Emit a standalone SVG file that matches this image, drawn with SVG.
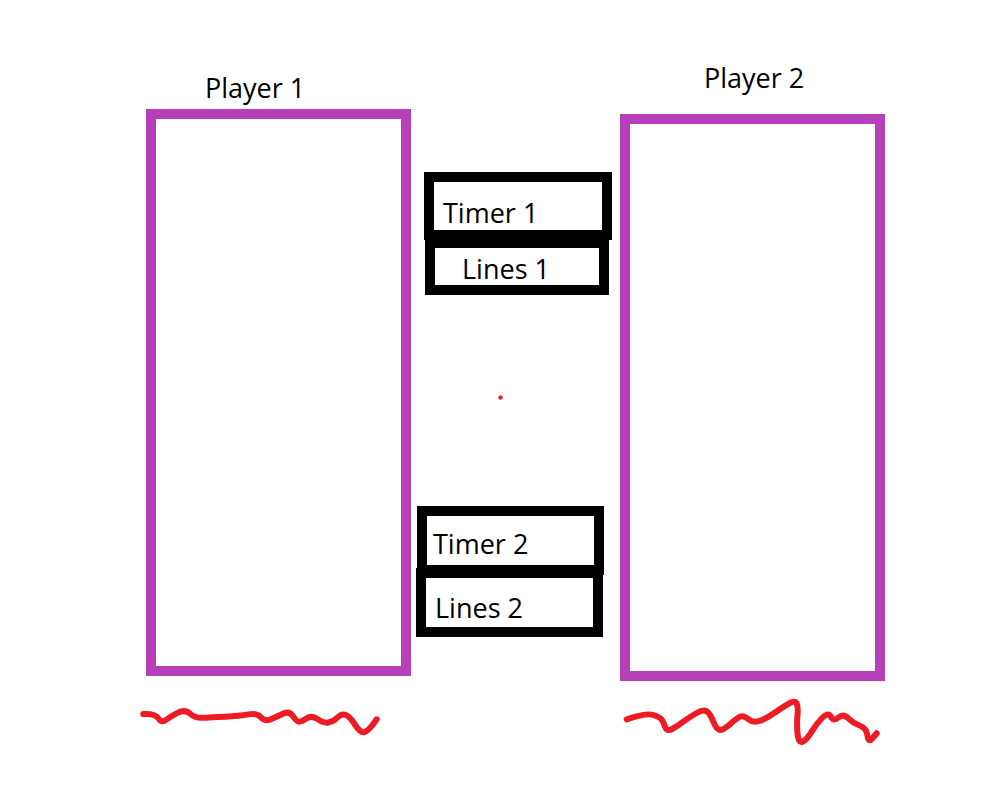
<svg xmlns="http://www.w3.org/2000/svg" width="1000" height="800" viewBox="0 0 1000 800">
<style>
.player{fill:none;stroke:#B73FBA;stroke-width:10}
.box{fill:#fff;stroke:#000;stroke-width:10}
.lbl{font-family:"Open Sans","Noto Sans",sans-serif;font-size:27px;fill:#000}
.scribble{fill:none;stroke:#ED1C24;stroke-width:6;stroke-linecap:round;stroke-linejoin:round}
</style>
<rect width="1000" height="800" fill="#fff"/>
<g id="player1">
<rect class="player" x="151" y="114" width="255" height="557"/>
<text class="lbl" x="205" y="98">Player 1</text>
</g>
<g id="player2">
<rect class="player" x="625" y="119" width="255" height="557"/>
<text class="lbl" x="704" y="88">Player 2</text>
</g>
<g id="timer1">
<rect class="box" x="429" y="177" width="178" height="58"/>
<text class="lbl" x="443" y="223">Timer 1</text>
</g>
<g id="lines1">
<rect class="box" x="430" y="243" width="174" height="47"/>
<text class="lbl" x="462" y="279">Lines 1</text>
</g>
<g id="timer2">
<rect class="box" x="422" y="511" width="177" height="59"/>
<text class="lbl" x="433" y="554">Timer 2</text>
</g>
<g id="lines2">
<rect class="box" x="421" y="573" width="177" height="59"/>
<text class="lbl" x="435" y="618">Lines 2</text>
</g>
<g id="connectors"></g>
<circle cx="500.5" cy="397.5" r="2.2" fill="#ED1C24"/>
<path class="scribble" d="M143.3,714 Q155,713.3 158.35,718.3 Q161.7,723.3 165.85,720 Q170,716.7 177.5,712.85 Q185,709 190,713.65 Q195,718.3 202.5,717.8 Q210,717.3 225,716.65 Q240,716 248.35,714.35 Q256.7,712.7 260.85,717.2 Q265,721.7 270.85,719.2 Q276.7,716.7 283,713.7 Q289.3,710.7 293,716.2 Q296.7,721.7 299.2,721.7 Q301.7,721.7 306.7,718.35 Q311.7,715 317.5,719.15 Q323.3,723.3 328.3,722.5 Q333.3,721.7 337.5,717.5 Q341.7,713.3 345.85,715 Q350,716.7 355,724.7 Q360,732.7 364.15,732.2 Q368.3,731.7 376.7,719.3"/>
<path class="scribble" d="M626.7,719.3 Q646.7,712.7 653.35,715 Q660,717.3 661.65,719.5 Q663.3,721.7 665,726.7 Q666.7,731.7 671.7,729.2 Q676.7,726.7 683.35,721.7 Q690,716.7 696.65,713 Q703.3,709.3 706.65,711.3 Q710,713.3 713.35,721.65 Q716.7,730 720,730 Q723.3,730 730,724.15 Q736.7,718.3 740,716.65 Q743.3,715 748.3,719.15 Q753.3,723.3 760,720.8 Q766.7,718.3 775,712.5 Q783.3,706.7 789.15,703.35 Q795,700 796.65,703.35 Q798.3,706.7 797.5,715 Q796.7,723.3 797.5,733.3 Q798.3,743.3 802.5,741.65 Q806.7,740 811.7,731.65 Q816.7,723.3 822.5,717.5 Q828.3,711.7 830.8,716.7 Q833.3,721.7 838.3,717.5 Q843.3,713.3 848.3,718.3 Q853.3,723.3 860,725.8 Q866.7,728.3 867.5,735.8 Q868.3,743.3 872.5,738.3 Q876.7,733.3 876.7,733.3"/>
</svg>
